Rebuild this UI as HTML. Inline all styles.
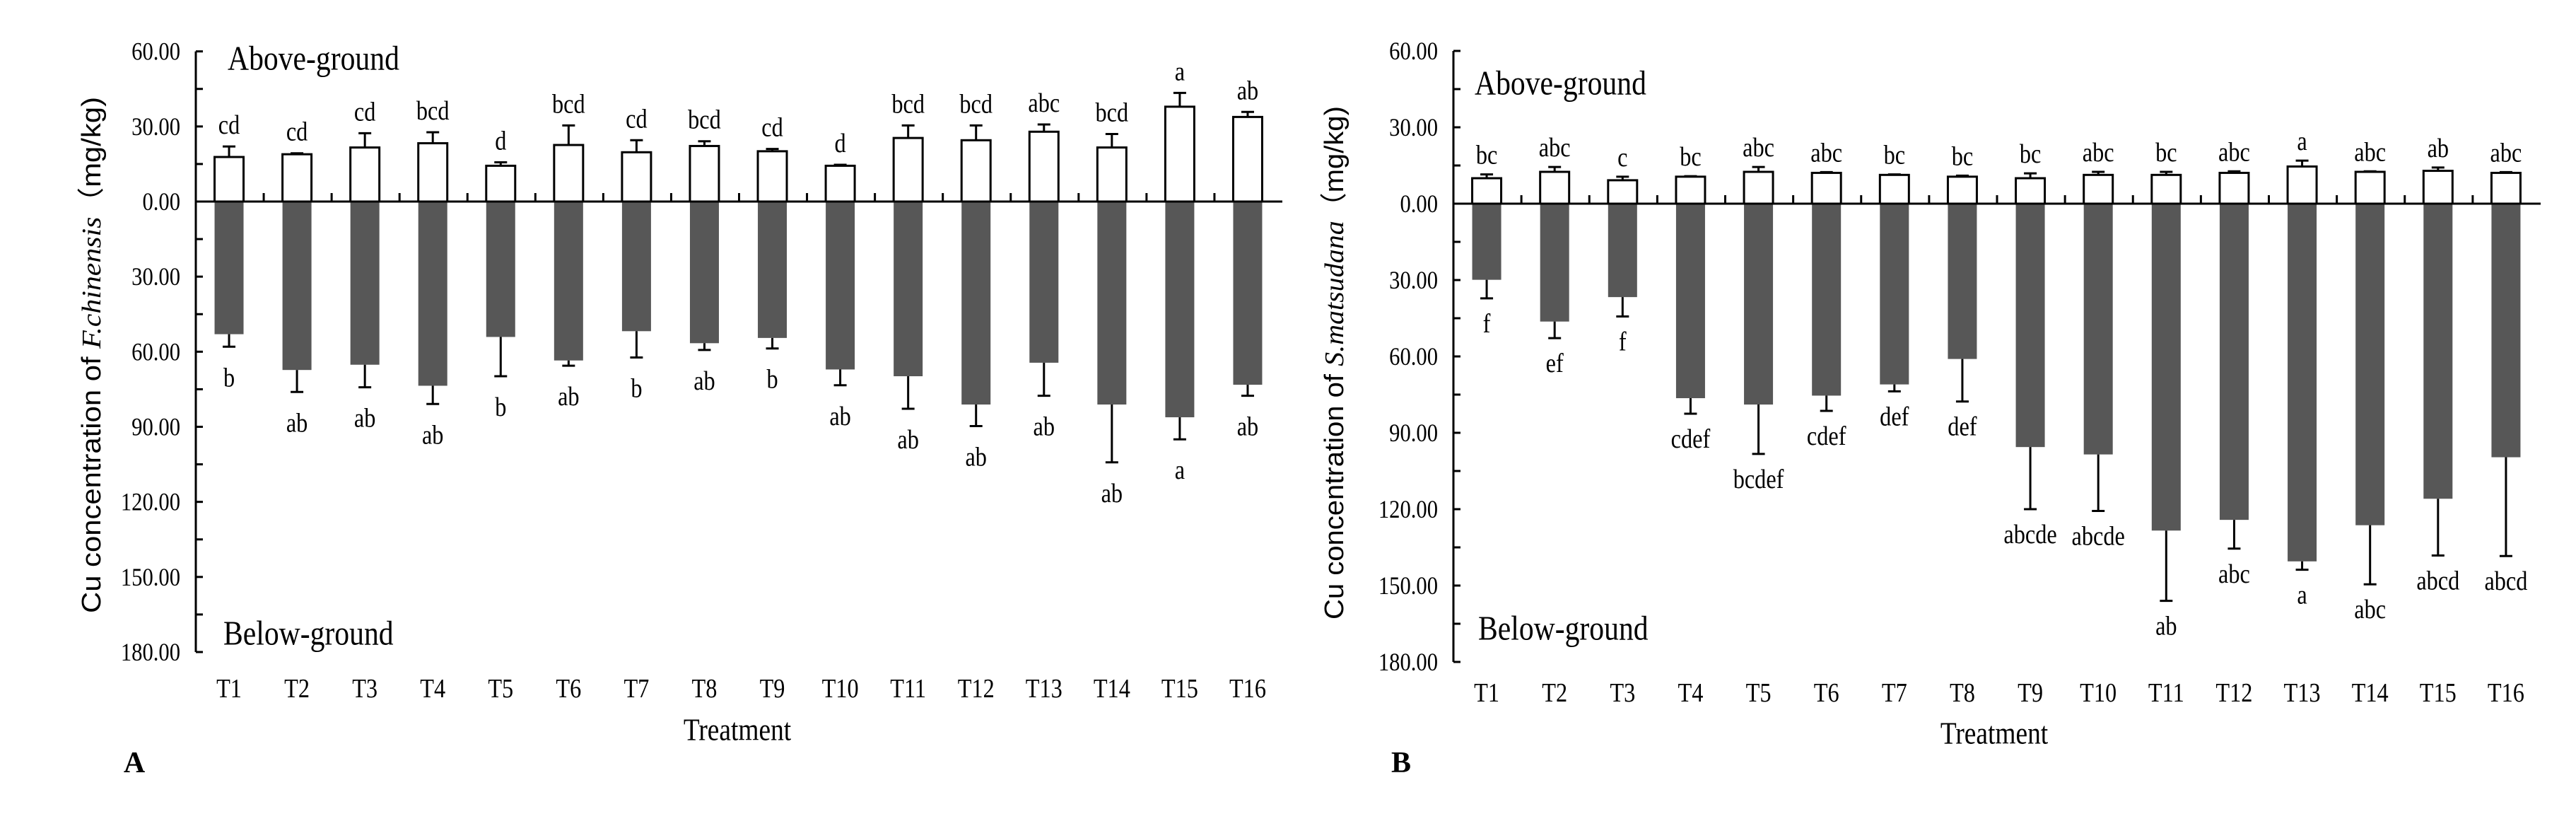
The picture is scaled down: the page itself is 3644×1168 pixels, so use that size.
<!DOCTYPE html>
<html><head><meta charset="utf-8">
<style>
html,body{margin:0;padding:0;background:#fff;}
svg{display:block;}
text{font-family:"Liberation Serif","Noto Serif CJK SC",serif;fill:#000;}
.sans{font-family:"Liberation Sans","Noto Sans CJK SC",sans-serif;}
</style></head>
<body>
<svg id="chart" width="3644" height="1168" viewBox="0 0 3644 1168" xmlns="http://www.w3.org/2000/svg"></svg>
<script>
const categories = ["T1","T2","T3","T4","T5","T6","T7","T8","T9","T10","T11","T12","T13","T14","T15","T16"];
const yTicks = [60,30,0,30,60,90,120,150,180];
const yTickLabels = ["60.00","30.00","0.00","30.00","60.00","90.00","120.00","150.00","180.00"];

const aAbove = [17.8,18.9,21.6,23.3,14.3,22.6,19.7,22.2,20.1,14.3,25.4,24.5,27.9,21.6,37.9,33.8];
const aAboveErr = [4.2,0.4,5.7,4.4,1.4,7.8,4.8,1.9,0.9,0.4,5.0,5.9,2.9,5.4,5.5,2.0];
const aBelow = [53.0,67.3,65.2,73.6,54.1,63.5,51.8,56.6,54.5,67.1,69.8,81.1,64.4,81.1,86.2,73.2];
const aBelowErr = [5.0,8.8,9.0,7.3,15.7,2.1,10.5,2.7,4.2,6.3,13.0,8.6,13.2,23.1,8.8,4.4];
const aAboveLetters = ["cd","cd","cd","bcd","d","bcd","cd","bcd","cd","d","bcd","bcd","abc","bcd","a","ab"];
const aBelowLetters = ["b","ab","ab","ab","b","ab","b","ab","b","ab","ab","ab","ab","ab","a","ab"];

const bAbove = [10.0,12.5,9.2,10.6,12.5,12.1,11.3,10.6,10.0,11.3,11.3,12.1,14.6,12.5,12.9,12.1];
const bAboveErr = [1.5,1.9,1.4,0.2,1.9,0.3,0.2,0.4,1.9,1.2,1.2,0.6,2.3,0.2,1.3,0.3];
const bBelow = [29.9,46.3,36.7,76.4,78.9,75.4,71.0,61.0,95.6,98.5,128.4,124.2,140.5,126.3,115.9,99.6];
const bBelowErr = [7.3,6.5,7.6,6.1,19.4,6.0,2.7,16.7,24.4,22.2,27.6,11.3,3.3,23.2,22.3,38.8];
const bAboveLetters = ["bc","abc","c","bc","abc","abc","bc","bc","bc","abc","bc","abc","a","abc","ab","abc"];
const bBelowLetters = ["f","ef","f","cdef","bcdef","cdef","def","def","abcde","abcde","ab","abc","a","abc","abcd","abcd"];

const NS = "http://www.w3.org/2000/svg";
const svg = document.getElementById("chart");
function el(tag, attrs, parent){
  const e = document.createElementNS(NS, tag);
  for (const k in attrs) e.setAttribute(k, attrs[k]);
  (parent||svg).appendChild(e);
  return e;
}
function txt(str, x, y, size, parent, opts){
  opts = opts||{};
  const t = el("text", {x:x, y:y, "font-size":size, "text-anchor":opts.anchor||"middle", "dominant-baseline":"central"}, parent);
  if (opts.weight) t.setAttribute("font-weight", opts.weight);
  if (opts.cls) t.setAttribute("class", opts.cls);
  t.textContent = str;
  const sq = opts.squeeze===undefined?0.85:opts.squeeze;
  if (sq !== 1) {
    const L = t.getComputedTextLength();
    t.setAttribute("textLength", L*sq);
    t.setAttribute("lengthAdjust", "spacingAndGlyphs");
  }
  return t;
}

function panel(cfg){
  const g = el("g", {});
  
  
  const ppu = (cfg.y180 - cfg.y0) / 180;
  const yUp = v => cfg.y0 - v*ppu;
  const yDown = v => cfg.y0 + v*ppu;
  const step = (cfg.xEnd - cfg.xAxis)/categories.length;
  const xc = i => cfg.xAxis + step*(i+0.5) + cfg.shift;
  const bw = 41, cap = 9;

  const ya = el("line", {x1:cfg.xAxis, y1:yUp(60), x2:cfg.xAxis, y2:yDown(180), stroke:"#000","stroke-width":3}, g);
  
  
  for (let v=-60; v<=180; v+=15){
    const y = cfg.y0 + v*ppu;
    el("line", {x1:cfg.xAxis, y1:y, x2:cfg.xAxis+10, y2:y, stroke:"#000","stroke-width":3}, g);
  }
  yTicks.forEach((v,i)=>{
    const y = i<2 ? yUp(v) : yDown(v);
    const t = txt(yTickLabels[i], cfg.xAxis-22, y, 36, g, {anchor:"end"});
    
    
  });

  categories.forEach((c,i)=>{
    const x = xc(i);
    const rb = el("rect", {x:x-bw/2, y:cfg.y0, width:bw, height:cfg.below[i]*ppu, fill:"#575757"}, g);
    
    
    const eb = yDown(cfg.below[i]+cfg.belowErr[i]);
    el("line", {x1:x, y1:yDown(cfg.below[i]), x2:x, y2:eb, stroke:"#000","stroke-width":3}, g);
    el("line", {x1:x-cap, y1:eb, x2:x+cap, y2:eb, stroke:"#000","stroke-width":3}, g);
    const lb = txt(cfg.belowLetters[i], x, eb+cfg.belowOff, 38, g);
    
    
    const ra = el("rect", {x:x-bw/2, y:yUp(cfg.above[i]), width:bw, height:cfg.above[i]*ppu, fill:"#fff", stroke:"#000","stroke-width":3}, g);
    
    
    const ea = yUp(cfg.above[i]+cfg.aboveErr[i]);
    el("line", {x1:x, y1:yUp(cfg.above[i]), x2:x, y2:ea, stroke:"#000","stroke-width":3}, g);
    el("line", {x1:x-cap, y1:ea, x2:x+cap, y2:ea, stroke:"#000","stroke-width":3}, g);
    const la = txt(cfg.aboveLetters[i], x, ea-cfg.aboveOff, 38, g);
    
    
    const tl = txt(c, x, cfg.xLabelY, 38, g);
    
    
    if (i>0){
      const xm = cfg.xAxis + step*i;
      el("line", {x1:xm, y1:cfg.y0, x2:xm, y2:cfg.y0-12, stroke:"#000","stroke-width":3}, g);
    }
  });
  const zl = el("line", {x1:cfg.xAxis, y1:cfg.y0, x2:cfg.xEnd, y2:cfg.y0, stroke:"#000","stroke-width":3}, g);
  
  

  const ag = txt("Above-ground", cfg.aboveX, cfg.aboveY, 49, g, {anchor:"start"});
  
  
  const bg = txt("Below-ground", cfg.belowX, cfg.belowY, 49, g, {anchor:"start"});
  
  
  const xt = txt("Treatment", cfg.titleX, cfg.titleY, 44, g);
  
  
  const pl = txt(cfg.letter, cfg.letterX, cfg.letterY, 42, g, {weight:"bold", squeeze:1});
  
  

  const yt = el("text", {x:0, y:0, "font-size":38, "text-anchor":"middle","dominant-baseline":"central", class:"sans",
    transform:"translate("+cfg.ytX+","+cfg.ytY+") rotate(-90)"}, g);
  
  
  const s1 = el("tspan", {}, yt); s1.textContent = "Cu concentration of ";
  const s2 = el("tspan", {"font-style":"italic"}, yt); s2.textContent = cfg.species;
  s2.setAttribute("font-family", "Liberation Serif, serif");
  const s3 = el("tspan", {}, yt); s3.textContent = cfg.unit;
  yt.setAttribute("textLength", cfg.ytLen);
  yt.setAttribute("lengthAdjust", "spacingAndGlyphs");
}

panel({name:"panel-a", xAxis:277, xEnd:1814, shift:-1, y0:285, y180:922,
  above:aAbove, aboveErr:aAboveErr, below:aBelow, belowErr:aBelowErr,
  aboveLetters:aAboveLetters, belowLetters:aBelowLetters, aboveOff:30, belowOff:44,
  xLabelY:974, aboveX:322, aboveY:82, belowX:316, belowY:895,
  titleX:1043, titleY:1032, letter:"A", letterX:190, letterY:1079,
  ytX:130, ytY:502, ytLen:730, species:"F.chinensis", unit:"\uFF08mg/kg)"});

panel({name:"panel-b", xAxis:2056, xEnd:3594, shift:-1, y0:288, y180:936,
  above:bAbove, aboveErr:bAboveErr, below:bBelow, belowErr:bBelowErr,
  aboveLetters:bAboveLetters, belowLetters:bBelowLetters, aboveOff:27, belowOff:36,
  xLabelY:980, aboveX:2086, aboveY:117, belowX:2091, belowY:888,
  titleX:2821, titleY:1037, letter:"B", letterX:1982, letterY:1079,
  ytX:1888, ytY:513, ytLen:726, species:"S.matsudana", unit:"\uFF08mg/kg)"});
</script>
</body></html>
